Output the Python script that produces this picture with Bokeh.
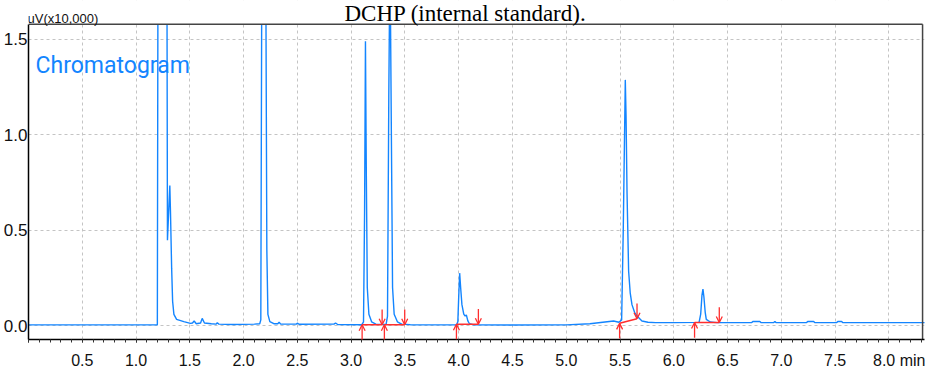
from bokeh.plotting import figure
from bokeh.models import (Range1d, SingleIntervalTicker, PrintfTickFormatter,
                          Label, ColumnDataSource, Arrow, OpenHead)
from bokeh.embed import file_html
from bokeh.resources import INLINE

# ---- chromatogram trace (time in min, signal in uV x10,000) ----
time_min = [0.00, 1.00, 1.198, 1.203, 1.288, 1.292, 1.314, 1.320, 1.331, 1.340, 1.352, 1.377,
            1.444, 1.506, 1.525, 1.540, 1.560, 1.600, 1.615, 1.636, 1.700, 1.745, 1.755, 1.770,
            1.900, 2.100, 2.150, 2.160, 2.168, 2.208, 2.216, 2.226, 2.244, 2.281, 2.318, 2.330,
            2.345, 2.490, 2.500, 2.515, 2.840, 2.855, 2.875, 3.100, 3.115, 3.125, 3.133, 3.141,
            3.150, 3.165, 3.190, 3.230, 3.325, 3.338, 3.350, 3.356, 3.366, 3.374, 3.385, 3.400,
            3.430, 3.470, 3.550, 3.980, 3.992, 4.000, 4.009, 4.018, 4.030, 4.047, 4.060, 4.071,
            4.085, 4.100, 4.140, 4.500, 5.000, 5.220, 5.440, 5.490, 5.515, 5.530, 5.549, 5.556,
            5.565, 5.580, 5.595, 5.611, 5.635, 5.658, 5.704, 5.760, 5.830, 6.000, 6.235, 6.250,
            6.262, 6.271, 6.280, 6.292, 6.302, 6.339, 6.400, 6.725, 6.735, 6.800, 6.810, 6.930,
            6.940, 6.950, 7.235, 7.245, 7.300, 7.310, 7.515, 7.525, 7.560, 7.570, 8.400]
signal = [0.004, 0.004, 0.004, 3.0, 3.0, 0.448, 0.734, 0.60, 0.30, 0.128, 0.059, 0.033,
          0.021, 0.012, 0.014, 0.024, 0.010, 0.014, 0.038, 0.014, 0.010, 0.008, 0.015, 0.008,
          0.006, 0.008, 0.010, 0.03, 3.0, 3.0, 0.40, 0.059, 0.021, 0.010, 0.010, 0.018,
          0.008, 0.008, 0.013, 0.007, 0.008, 0.014, 0.006, 0.005, 0.02, 0.6, 1.49, 0.8,
          0.2, 0.06, 0.02, 0.008, 0.006, 0.05, 1.2, 3.0, 3.0, 1.0, 0.2, 0.06,
          0.02, 0.008, 0.005, 0.004, 0.02, 0.15, 0.275, 0.20, 0.11, 0.06, 0.05, 0.056,
          0.025, 0.010, 0.004, 0.003, 0.004, 0.010, 0.024, 0.018, 0.03, 0.5, 1.288, 1.10,
          0.70, 0.285, 0.17, 0.11, 0.07, 0.05, 0.024, 0.018, 0.016, 0.016, 0.017, 0.06,
          0.16, 0.192, 0.15, 0.07, 0.033, 0.019, 0.016, 0.016, 0.022, 0.022, 0.016, 0.016,
          0.022, 0.016, 0.016, 0.022, 0.022, 0.016, 0.016, 0.022, 0.022, 0.016, 0.016]

# ---- integration marks (peak start / end and baseline levels) ----
peak_start = [3.102, 3.309, 3.979, 5.496, 6.193]
peak_end = [3.288, 3.498, 4.183, 5.658, 6.423]
start_level = [0.005, 0.005, 0.007, 0.012, 0.016]
end_level = [0.005, 0.005, 0.007, 0.036, 0.016]

# ---- axis tick labels ----
x_ticks = [0.5, 1.0, 1.5, 2.0, 2.5, 3.0, 3.5, 4.0, 4.5, 5.0, 5.5, 6.0, 6.5, 7.0, 7.5, 8.0]
x_tick_labels = ["0.5", "1.0", "1.5", "2.0", "2.5", "3.0", "3.5", "4.0", "4.5", "5.0",
                 "5.5", "6.0", "6.5", "7.0", "7.5", "8.0 min"]

title_text = "DCHP (internal standard)."
unit_text = "uV(x10,000)"
name_text = "Chromatogram"

SANS = "Liberation Sans"
BLUE = "#1385ff"
RED = "#ff2e2e"
BOX = "#444444"

# plotting window: the drawn box spans X0..X_BOX, Y0..Y_BOX; the frame reaches up to
# the top of the canvas so that the header texts can sit above the box
X0, X_END, X_BOX = 0.0, 8.331, 8.313
Y0, Y_BOX, Y_TOP = -0.0727, 1.5795, 1.7041

p = figure(width=925, height=371, x_range=Range1d(X0, X_END), y_range=Range1d(Y0, Y_TOP),
           output_backend="svg", toolbar_location=None,
           min_border_left=28, min_border_right=1, min_border_top=0, min_border_bottom=29)
p.background_fill_color = "white"
p.outline_line_color = None

# x axis
xa = p.xaxis[0]
xa.ticker = SingleIntervalTicker(interval=0.5, num_minor_ticks=5)
pad = "\u00a0" * 7   # keeps "8.0" centred on its tick when the unit follows it
overrides = {0: ""}
overrides.update({v: (pad + s if s.endswith("min") else s)
                  for v, s in zip(x_ticks, x_tick_labels)})
xa.major_label_overrides = overrides
xa.major_label_text_font = SANS
xa.major_label_text_font_size = "16px"
xa.major_label_text_color = "#111111"
xa.major_label_standoff = 9
xa.axis_line_color = "black"
xa.axis_line_width = 1.5
xa.major_tick_out = 3
xa.major_tick_in = 0
xa.minor_tick_out = 3
xa.minor_tick_in = 0
xa.major_tick_line_color = "#333333"
xa.minor_tick_line_color = "#333333"

ya = p.yaxis[0]
ya.ticker = SingleIntervalTicker(interval=0.5, num_minor_ticks=0)
ya.formatter = PrintfTickFormatter(format="%.1f")
ya.bounds = (Y0, Y_BOX)
ya.major_label_text_font = SANS
ya.major_label_text_font_size = "17px"
ya.major_label_text_color = "#111111"
ya.major_label_standoff = 1
ya.major_tick_out = 0
ya.major_tick_in = 0
ya.minor_tick_out = 0
ya.axis_line_color = "black"
ya.axis_line_width = 1.5

for g in (p.xgrid[0], p.ygrid[0]):
    g.grid_line_color = "#c4c4c4"
    g.grid_line_dash = "3 3"
    g.grid_line_width = 1

# trace (off-scale values are cut at the top of the box, as the detector plot does)
CUT = Y_BOX + 0.03
shown = [min(v, CUT) for v in signal]
p.line(time_min, shown, line_color=BLUE, line_width=1.4)

# integration baselines
p.segment(x0=peak_start, y0=start_level, x1=peak_end, y1=end_level,
          line_color=RED, line_width=1.5)

# arrows: up at peak start, down at peak end
ARROW_LEN = 0.08
arr_src = ColumnDataSource(dict(
    xs=peak_start + peak_end,
    ys=[v - ARROW_LEN for v in start_level] + [v + ARROW_LEN for v in end_level],
    xe=peak_start + peak_end,
    ye=start_level + end_level,
))
p.add_layout(Arrow(x_start="xs", y_start="ys", x_end="xe", y_end="ye", source=arr_src,
                   line_color=RED, line_width=1.3,
                   end=OpenHead(size=6, line_color=RED, line_width=1.3)))

# white header band above the box (hides grid there)
p.quad(left=[X0 - 1], right=[X_END + 1], bottom=[Y_BOX], top=[Y_TOP + 1],
       fill_color="white", line_color=None)
# box top and right edges
p.segment(x0=[X0, X_BOX], y0=[Y_BOX, Y0], x1=[X_BOX, X_BOX], y1=[Y_BOX, Y_BOX],
          line_color=BOX, line_width=1.5)

# header texts
p.add_layout(Label(x=4.063, y=1.637, text=title_text, text_align="center",
                   text_baseline="alphabetic", text_font="Liberation Serif",
                   text_font_size="23px", text_color="black"))
p.add_layout(Label(x=-0.009, y=1.611, text=unit_text, text_align="left",
                   text_baseline="alphabetic", text_font=SANS,
                   text_font_size="13px", text_color="#111111"))
p.add_layout(Label(x=0.065, y=1.361, text=name_text, text_align="left",
                   text_baseline="alphabetic", text_font="Roboto",
                   text_font_size="23px", text_color=BLUE))

open("out.html", "w").write(file_html(p, INLINE))
